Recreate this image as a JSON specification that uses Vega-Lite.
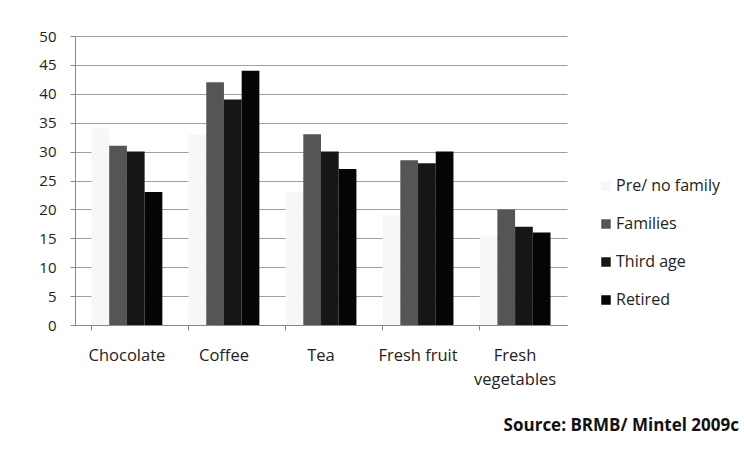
{
  "$schema": "https://vega.github.io/schema/vega-lite/v6.json",
  "width": 492,
  "height": 289,
  "autosize": {"type": "none"},
  "padding": {"left": 75, "top": 36, "right": 177, "bottom": 125},
  "background": "white",
  "config": {
    "font": "Open Sans",
    "view": {"stroke": null}
  },
  "title": {
    "text": "Source: BRMB/ Mintel 2009c",
    "orient": "bottom",
    "anchor": "end",
    "frame": "group",
    "fontSize": 17,
    "fontWeight": "bold",
    "color": "#111",
    "dx": 172,
    "offset": 30
  },
  "data": {
    "values": [
      {"category": "Chocolate", "group": "Pre/ no family", "value": 34},
      {"category": "Chocolate", "group": "Families", "value": 31},
      {"category": "Chocolate", "group": "Third age", "value": 30},
      {"category": "Chocolate", "group": "Retired", "value": 23},
      {"category": "Coffee", "group": "Pre/ no family", "value": 33},
      {"category": "Coffee", "group": "Families", "value": 42},
      {"category": "Coffee", "group": "Third age", "value": 39},
      {"category": "Coffee", "group": "Retired", "value": 44},
      {"category": "Tea", "group": "Pre/ no family", "value": 23},
      {"category": "Tea", "group": "Families", "value": 33},
      {"category": "Tea", "group": "Third age", "value": 30},
      {"category": "Tea", "group": "Retired", "value": 27},
      {"category": "Fresh fruit", "group": "Pre/ no family", "value": 19},
      {"category": "Fresh fruit", "group": "Families", "value": 28.5},
      {"category": "Fresh fruit", "group": "Third age", "value": 28},
      {"category": "Fresh fruit", "group": "Retired", "value": 30},
      {"category": "Fresh vegetables", "group": "Pre/ no family", "value": 15.5},
      {"category": "Fresh vegetables", "group": "Families", "value": 20},
      {"category": "Fresh vegetables", "group": "Third age", "value": 17},
      {"category": "Fresh vegetables", "group": "Retired", "value": 16}
    ]
  },
  "mark": {"type": "bar"},
  "encoding": {
    "x": {
      "field": "category",
      "type": "nominal",
      "sort": ["Chocolate", "Coffee", "Tea", "Fresh fruit", "Fresh vegetables"],
      "scale": {"paddingInner": 0.27, "paddingOuter": 0.17},
      "axis": {
        "title": null,
        "labelAngle": 0,
        "labelFontSize": 16.5,
        "labelColor": "#222",
        "labelPadding": 17,
        "labelLineHeight": 24,
        "labelExpr": "datum.label == 'Fresh vegetables' ? ['Fresh', 'vegetables'] : datum.label",
        "domainColor": "#888",
        "tickColor": "#888",
        "tickSize": 5,
        "bandPosition": 0,
        "ticks": true
      }
    },
    "xOffset": {
      "field": "group",
      "type": "nominal",
      "sort": ["Pre/ no family", "Families", "Third age", "Retired"],
      "scale": {"paddingInner": 0, "paddingOuter": 0}
    },
    "y": {
      "field": "value",
      "type": "quantitative",
      "scale": {"domain": [0, 50]},
      "axis": {
        "title": null,
        "values": [0, 5, 10, 15, 20, 25, 30, 35, 40, 45, 50],
        "labelFontSize": 15,
        "labelColor": "#222",
        "labelPadding": 14,
        "tickSize": 5,
        "tickColor": "#888",
        "domainColor": "#888",
        "gridColor": "#a0a0a0",
        "gridWidth": 1
      }
    },
    "color": {
      "field": "group",
      "type": "nominal",
      "sort": ["Pre/ no family", "Families", "Third age", "Retired"],
      "scale": {
        "domain": ["Pre/ no family", "Families", "Third age", "Retired"],
        "range": ["#f7f7f7", "#555555", "#161616", "#050505"]
      },
      "legend": {
        "title": null,
        "orient": "none",
        "legendX": 523,
        "legendY": 142,
        "symbolType": "square",
        "symbolSize": 90,
        "symbolStrokeWidth": 0,
        "labelFontSize": 16,
        "labelColor": "#222",
        "rowPadding": 22,
        "labelOffset": 2
      }
    }
  }
}
